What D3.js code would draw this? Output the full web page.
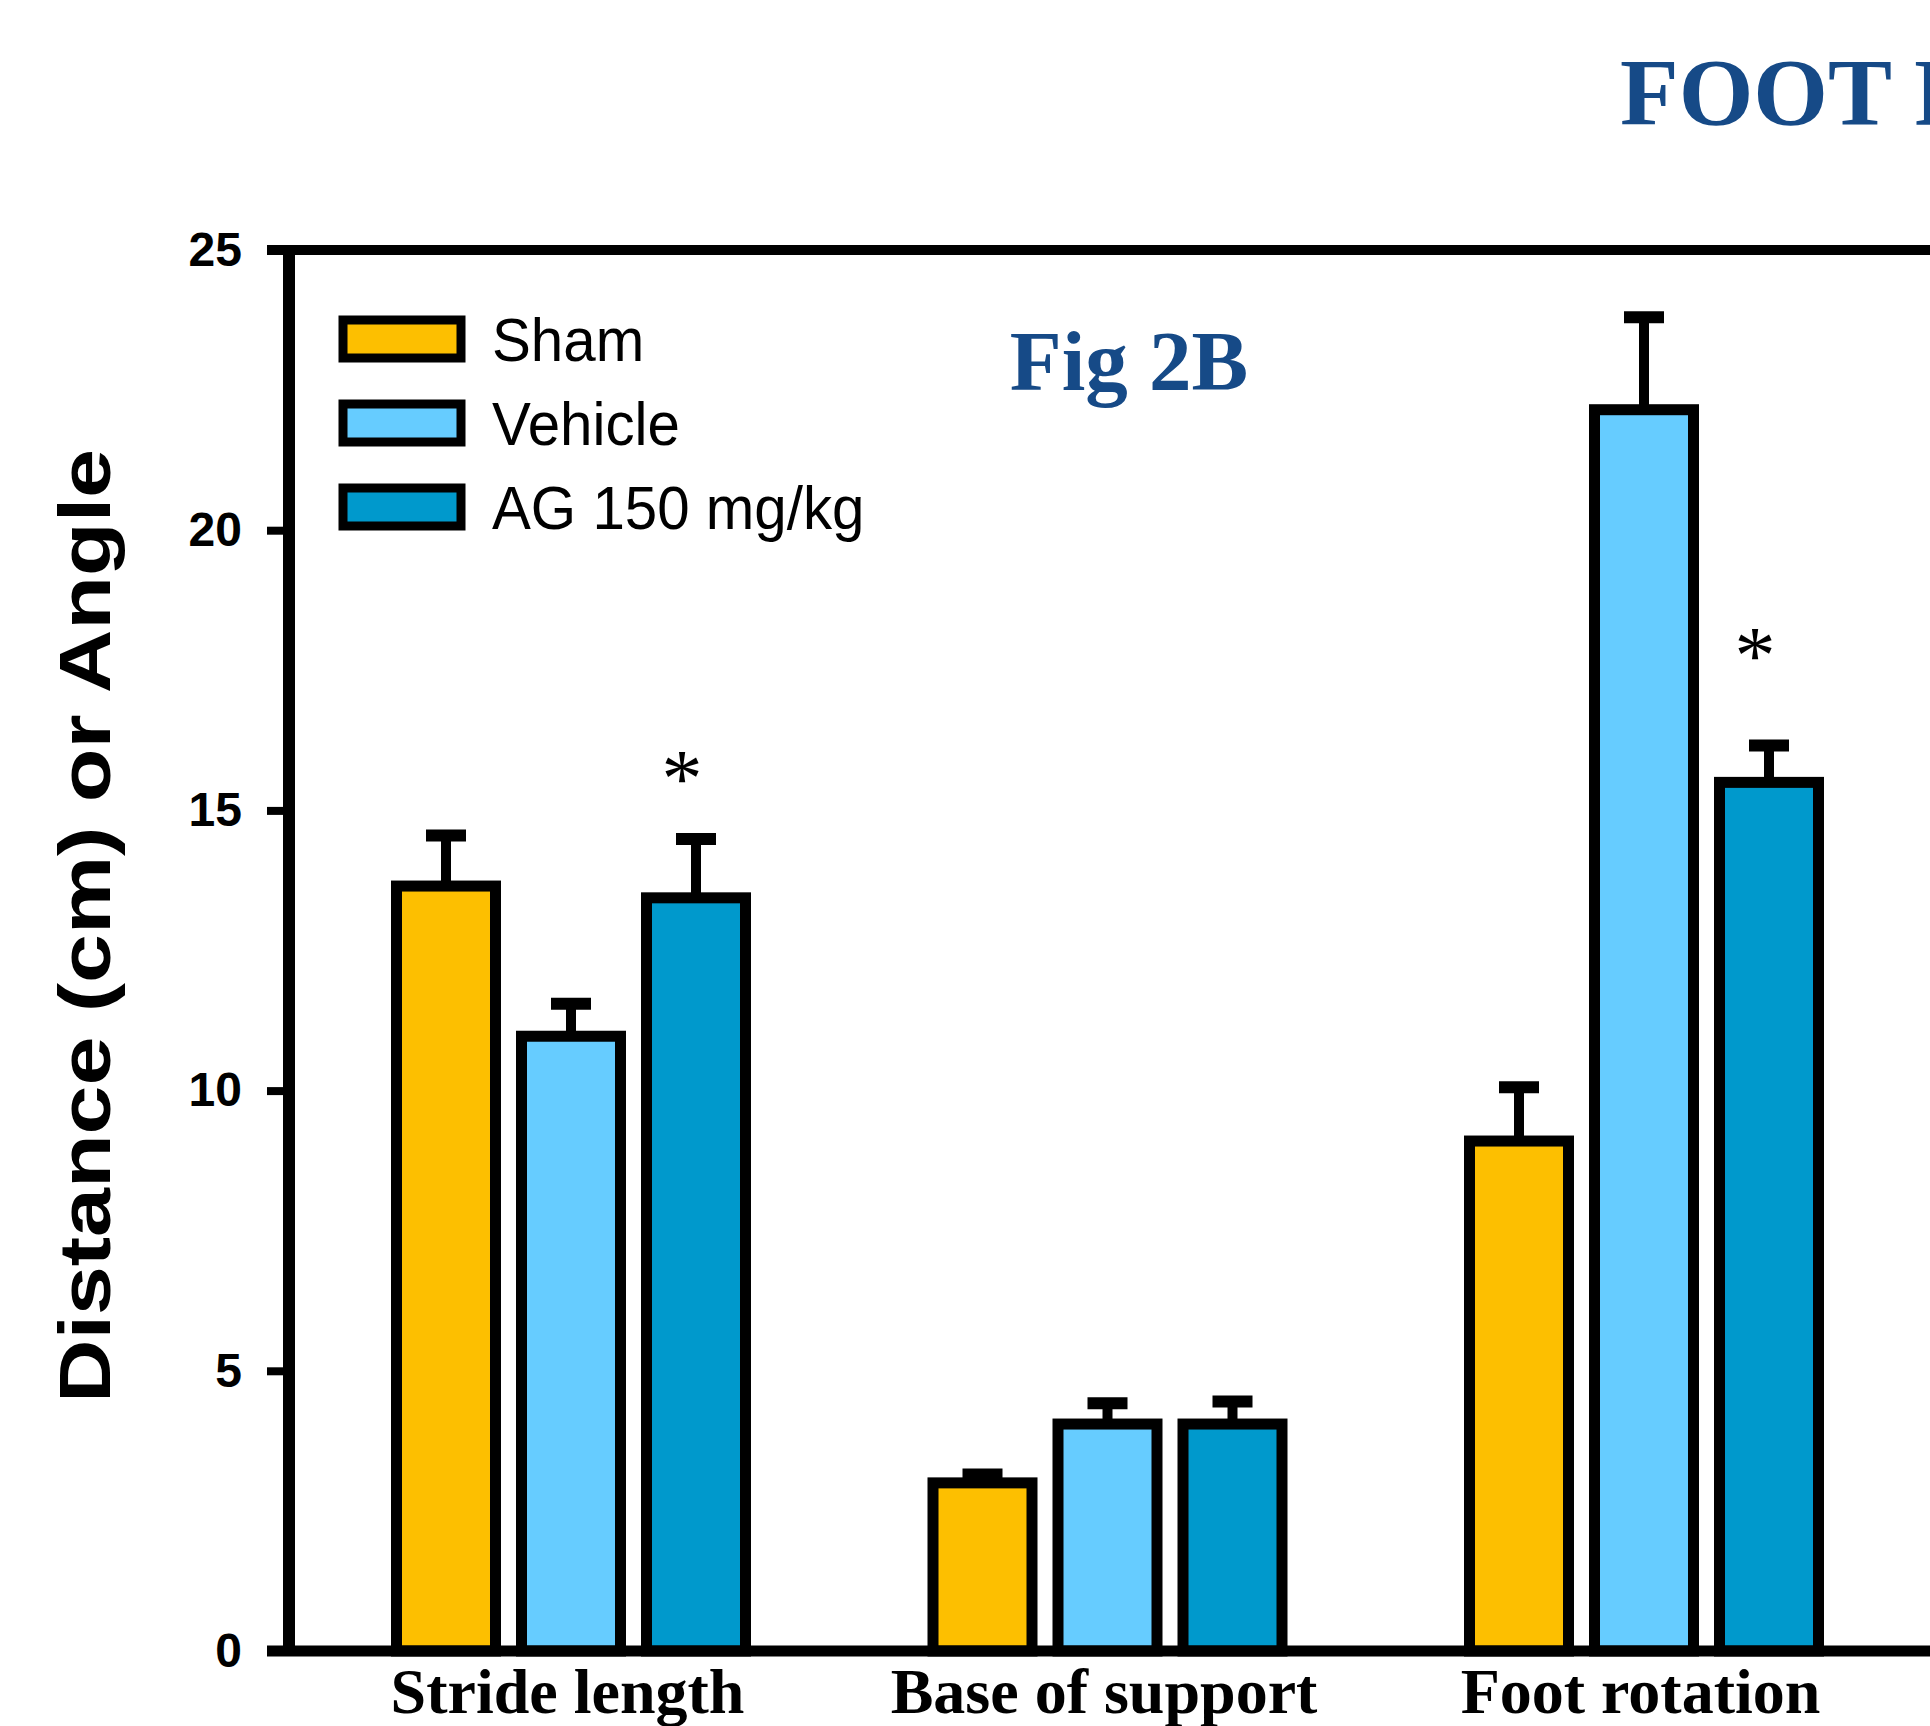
<!DOCTYPE html>
<html><head><meta charset="utf-8">
<script src="https://cdn.jsdelivr.net/npm/d3@7"></script>
<style>html,body{margin:0;padding:0;background:#fff;overflow:hidden}</style>
</head><body>
<svg id="chart" width="1930" height="1726"></svg>
<script>
// ---- data ----
const categories = ["Stride length", "Base of support", "Foot rotation"];
const seriesNames = ["Sham", "Vehicle", "AG 150 mg/kg"];
const shamMean = [13.65, 3.0, 9.1];
const shamSem = [0.9, 0.15, 0.96];
const vehicleMean = [10.97, 4.05, 22.15];
const vehicleSem = [0.58, 0.37, 1.65];
const agMean = [13.44, 4.05, 15.5];
const agSem = [1.05, 0.4, 0.66];
const yTicks = [0, 5, 10, 15, 20, 25];
const sigCategories = ["Stride length", "Foot rotation"];
const sigLevels = [15.75, 17.95];
const seriesColors = ["#FDBF00", "#66CCFF", "#0099CC"];

const means = [shamMean, vehicleMean, agMean];
const sems = [shamSem, vehicleSem, agSem];

// ---- layout ----
const W = 1930, H = 1726;
const axisX = 289, yTopPx = 250, yBotPx = 1651;
const svg = d3.select("#chart");
svg.append("rect").attr("width", W).attr("height", H).attr("fill", "#fff");

const y = d3.scaleLinear().domain([0, 25]).range([yBotPx, yTopPx]);
const x = d3.scalePoint().domain(categories).range([571, 1644]);
const xs = d3.scalePoint().domain(seriesNames).range([-125, 125]);
const barOuter = 110, barStroke = 11;

const blue = "#164A87";
const serif = "'Liberation Serif','Times New Roman',Times,serif";
const sans = "'Liberation Sans',Arial,Helvetica,sans-serif";

// Title (cut by the right edge as in the reference)
svg.append("text").attr("x", 1620).attr("y", 125)
  .attr("font-family", serif).attr("font-weight", "bold").attr("font-size", 96)
  .attr("fill", blue).text("FOOT PRINT ANALYSIS");

// Fig label
svg.append("text").attr("x", 1129).attr("y", 390).attr("text-anchor", "middle")
  .attr("font-family", serif).attr("font-weight", "bold").attr("font-size", 85)
  .attr("fill", blue).text("Fig 2B");

// ---- bars ----
const rows = [];
seriesNames.forEach((s, i) => categories.forEach((c, j) => {
  rows.push({s, c, i, v: means[i][j], e: sems[i][j]});
}));

const gBars = svg.append("g");
gBars.selectAll("rect.bar").data(rows).enter().append("rect")
  .attr("class", "bar")
  .attr("x", d => x(d.c) + xs(d.s) - (barOuter - barStroke) / 2)
  .attr("width", barOuter - barStroke)
  .attr("y", d => y(d.v))
  .attr("height", d => y(0) - y(d.v))
  .attr("fill", d => seriesColors[d.i])
  .attr("stroke", "#000").attr("stroke-width", barStroke);

// error bars (upper only)
gBars.selectAll("line.stem").data(rows).enter().append("line")
  .attr("x1", d => x(d.c) + xs(d.s)).attr("x2", d => x(d.c) + xs(d.s))
  .attr("y1", d => y(d.v)).attr("y2", d => y(d.v + d.e))
  .attr("stroke", "#000").attr("stroke-width", 10);
gBars.selectAll("line.cap").data(rows).enter().append("line")
  .attr("x1", d => x(d.c) + xs(d.s) - 20).attr("x2", d => x(d.c) + xs(d.s) + 20)
  .attr("y1", d => y(d.v + d.e)).attr("y2", d => y(d.v + d.e))
  .attr("stroke", "#000").attr("stroke-width", 12);

// significance asterisks
svg.selectAll("text.sig").data(sigCategories.map((c, k) => ({c, v: sigLevels[k]})))
  .enter().append("text")
  .attr("x", d => x(d.c) + xs("AG 150 mg/kg") - 14)
  .attr("y", d => y(d.v) + 38)
  .attr("text-anchor", "middle")
  .attr("font-family", serif).attr("font-size", 82).attr("fill", "#000")
  .text("*");

// ---- axes ----
const gy = svg.append("g").attr("transform", `translate(${axisX},0)`)
  .call(d3.axisLeft(y).tickValues(yTicks).tickSize(22).tickPadding(25).tickFormat(d3.format("d")));
gy.select(".domain").remove();
gy.selectAll(".tick line").attr("stroke", "#000").attr("stroke-width", 8);
gy.selectAll(".tick text").attr("font-family", sans).attr("font-weight", "bold")
  .attr("font-size", 48).attr("fill", "#000");

// frame lines
svg.append("line").attr("x1", 267).attr("x2", W).attr("y1", yTopPx).attr("y2", yTopPx)
  .attr("stroke", "#000").attr("stroke-width", 10);
svg.append("line").attr("x1", axisX).attr("x2", axisX).attr("y1", yTopPx - 5).attr("y2", yBotPx + 5)
  .attr("stroke", "#000").attr("stroke-width", 12);
svg.append("line").attr("x1", 267).attr("x2", W).attr("y1", yBotPx).attr("y2", yBotPx)
  .attr("stroke", "#000").attr("stroke-width", 11);

// x category labels
const gx = svg.append("g").attr("transform", `translate(-4,${yBotPx})`)
  .call(d3.axisBottom(x).tickSize(0).tickPadding(17));
gx.select(".domain").remove();
gx.selectAll(".tick text").attr("font-family", serif).attr("font-weight", "bold")
  .attr("font-size", 64).attr("fill", "#000");

// y axis title
svg.append("text")
  .attr("transform", "translate(110,926) rotate(-90)")
  .attr("text-anchor", "middle")
  .attr("font-family", sans).attr("font-weight", "bold").attr("font-size", 73)
  .attr("textLength", 954).attr("lengthAdjust", "spacingAndGlyphs")
  .attr("fill", "#000").text("Distance (cm) or Angle");

// ---- legend ----
const legendY = d3.scalePoint().domain(seriesNames).range([339, 507]);
const lg = svg.append("g");
lg.selectAll("rect").data(seriesNames).enter().append("rect")
  .attr("x", 343).attr("width", 118)
  .attr("y", d => legendY(d) - 19).attr("height", 38)
  .attr("fill", (d, i) => seriesColors[i])
  .attr("stroke", "#000").attr("stroke-width", 9);
lg.selectAll("text").data(seriesNames).enter().append("text")
  .attr("transform", d => `translate(492,${legendY(d) + 22}) scale(0.94,1)`)
  .attr("font-family", sans).attr("font-size", 62).attr("fill", "#000")
  .text(d => d);
</script>
</body></html>
